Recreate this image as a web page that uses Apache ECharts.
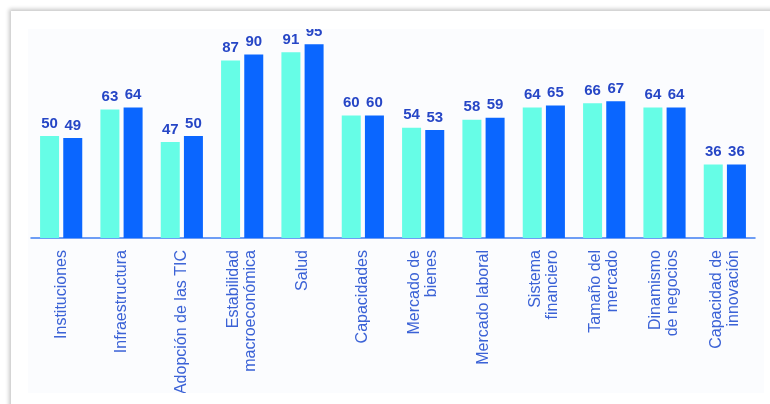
<!DOCTYPE html>
<html>
<head>
<meta charset="utf-8">
<script src="https://cdn.jsdelivr.net/npm/echarts@6/dist/echarts.min.js"></script>
<style>
  html, body { margin: 0; padding: 0; width: 770px; height: 404px; overflow: hidden; background: #ffffff; }
  #card { position: absolute; left: 11px; top: 11px; width: 800px; height: 420px; background: #ffffff;
          box-shadow: -2px -2px 4px rgba(0,0,0,0.22); }
  #chart { position: absolute; left: 28px; top: 29px; width: 736px; height: 364px; background: #fbfcfe; }
</style>
</head>
<body>
<div id="card"></div>
<div id="chart"></div>
<script>
const categories = [
  'Instituciones', 'Infraestructura', 'Adopción de las TIC', 'Estabilidad\nmacroeconómica',
  'Salud', 'Capacidades', 'Mercado de\nbienes', 'Mercado laboral', 'Sistema\nfinanciero',
  'Tamaño del\nmercado', 'Dinamismo\nde negocios', 'Capacidad de\ninnovación'
];
const seriesA = [50, 63, 47, 87, 91, 60, 54, 58, 64, 66, 64, 36];
const seriesB = [49, 64, 50, 90, 95, 60, 53, 59, 65, 67, 64, 36];

const chart = echarts.init(document.getElementById('chart'), null, { renderer: 'canvas' });
const labelStyle = {
  show: true, position: 'top', distance: 5,
  color: '#2646c6', fontWeight: 'bold', fontSize: 15, fontFamily: 'Arial, Liberation Sans, sans-serif'
};
chart.setOption({
  animation: false,
  grid: { left: 3, right: 9, top: 5, bottom: 155, containLabel: false, outerBoundsMode: 'none' },
  xAxis: {
    type: 'category', data: categories,
    axisLine: { lineStyle: { color: '#3f7ef2', width: 1.5 } },
    axisTick: { show: false },
    axisLabel: {
      interval: 0, rotate: 90, margin: 12, color: '#3b62d6', fontSize: 16,
      lineHeight: 17, fontFamily: 'Arial, Liberation Sans, sans-serif'
    }
  },
  yAxis: { type: 'value', min: 0, max: 100, show: false, splitLine: { show: false } },
  series: [
    { type: 'bar', data: seriesA, barWidth: 19, barGap: '22%', itemStyle: { color: '#66fde6' }, label: labelStyle },
    { type: 'bar', data: seriesB, barWidth: 19, itemStyle: { color: '#0a66ff' }, label: labelStyle }
  ]
});
</script>
</body>
</html>
